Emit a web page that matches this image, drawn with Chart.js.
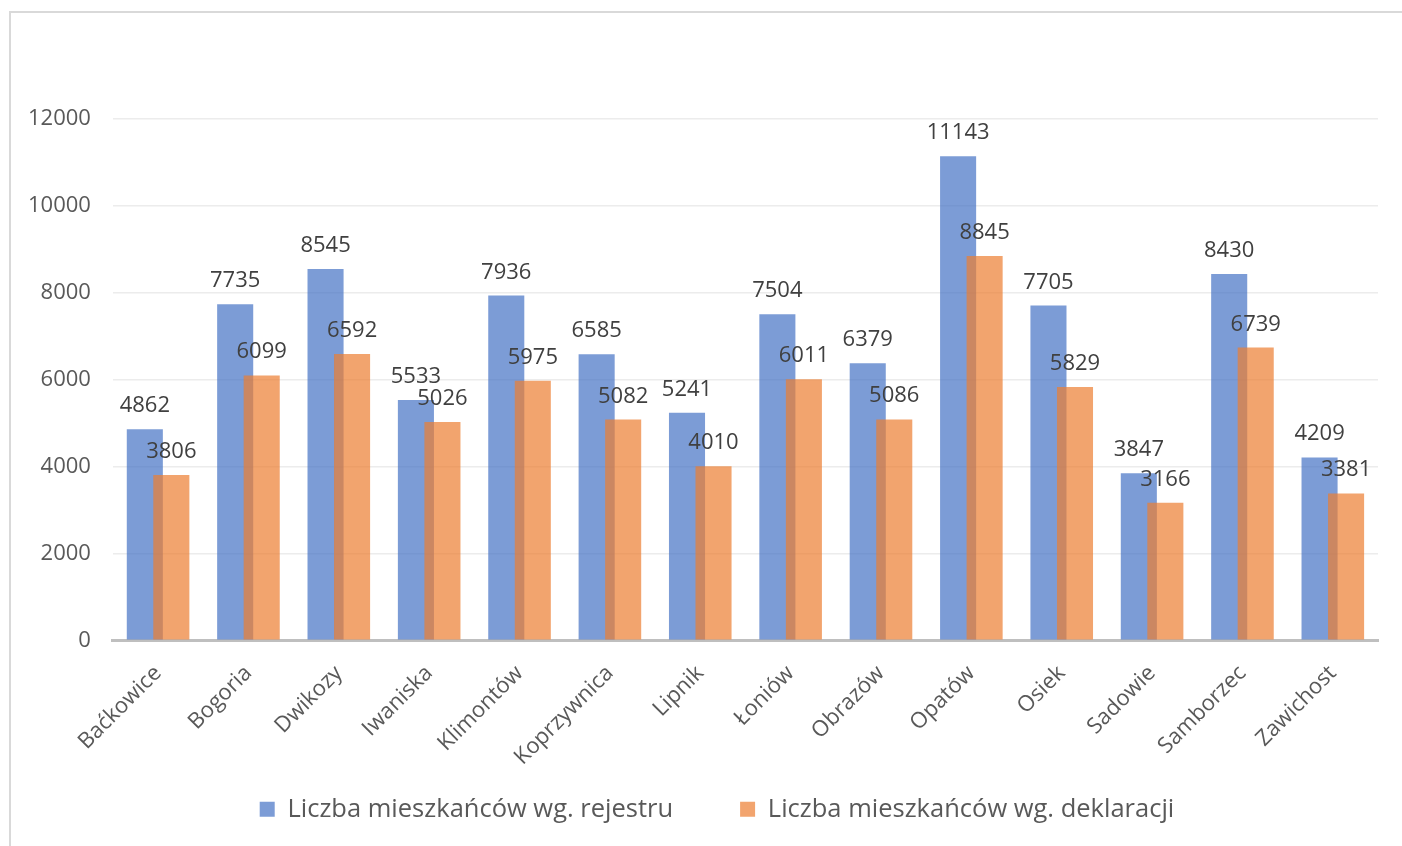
<!DOCTYPE html>
<html>
<head>
<meta charset="utf-8">
<script src="https://cdn.jsdelivr.net/npm/chart.js@4.4.0/dist/chart.umd.min.js"></script>
<style>
    html, body { margin: 0; padding: 0; background: #fff; overflow: hidden; }
    .frame {
        position: absolute; left: 9px; top: 11px;
        width: 1500px; height: 900px;
        border: 2px solid #d9d9d9;
    }
    .wrap { position: absolute; left: 0; top: 0; width: 1402px; height: 846px; }
</style>
</head>
<body>
<div class="frame"></div>
<div class="wrap"><canvas id="chart" width="1402" height="846"></canvas></div>
<script>
const gminy = ['Baćkowice', 'Bogoria', 'Dwikozy', 'Iwaniska', 'Klimontów', 'Koprzywnica', 'Lipnik',
    'Łoniów', 'Obrazów', 'Opatów', 'Osiek', 'Sadowie', 'Samborzec', 'Zawichost'];
const wgRejestru = [4862, 7735, 8545, 5533, 7936, 6585, 5241, 7504, 6379, 11143, 7705, 3847, 8430, 4209];
const wgDeklaracji = [3806, 6099, 6592, 5026, 5975, 5082, 4010, 6011, 5086, 8845, 5829, 3166, 6739, 3381];
const seriesNames = ['Liczba mieszkańców wg. rejestru', 'Liczba mieszkańców wg. deklaracji'];

const FONT = "'Open Sans', sans-serif";

// draw datasets first-to-last so the orange bars sit on top of the blue ones
const drawOrder = {
    id: 'drawOrder',
    afterLayout(chart) {
        // legend in the original sits a bit right of the canvas centre
        chart.legend.left += 25;
        chart.legend.right += 25;
    },
    beforeDatasetsDraw(chart) {
        chart.getSortedVisibleDatasetMetas().forEach((meta) => meta.controller.draw());
        return false;
    },
    afterDraw(chart) {
        const ctx = chart.ctx;
        ctx.save();
        ctx.font = '22px ' + FONT;
        ctx.fillStyle = '#404040';
        ctx.textAlign = 'center';
        ctx.textBaseline = 'alphabetic';
        chart.getSortedVisibleDatasetMetas().forEach((meta) => {
            const values = chart.data.datasets[meta.index].data;
            meta.data.forEach((bar, i) => {
                ctx.fillText(String(values[i]), bar.x, bar.y - 17);
            });
        });
        ctx.restore();
    }
};

new Chart(document.getElementById('chart'), {
    type: 'bar',
    data: {
        labels: gminy,
        datasets: [
            {
                label: seriesNames[0],
                data: wgRejestru,
                backgroundColor: 'rgba(68,114,196,0.7)',
                borderWidth: 0,
                categoryPercentage: 0.587,
                barPercentage: 1.36,
            },
            {
                label: seriesNames[1],
                data: wgDeklaracji,
                backgroundColor: 'rgba(237,125,49,0.7)',
                borderWidth: 0,
                categoryPercentage: 0.587,
                barPercentage: 1.36,
            },
        ],
    },
    options: {
        responsive: false,
        animation: false,
        layout: { padding: { left: 6, right: 24, top: 119, bottom: 14 } },
        plugins: {
            tooltip: { enabled: false },
            legend: {
                position: 'bottom',
                labels: {
                    font: { family: FONT, size: 25.5 },
                    color: '#595959',
                    boxWidth: 15,
                    boxHeight: 15,
                    padding: 14,
                    generateLabels(chart) {
                        const items = Chart.defaults.plugins.legend.labels.generateLabels(chart);
                        // wider gap between the two entries
                        items[0].text = items[0].text + '        ';
                        return items;
                    },
                },
            },
        },
        scales: {
            x: {
                grid: { display: false },
                border: { color: '#bfbfbf', width: 3 },
                ticks: {
                    font: { family: FONT, size: 22 },
                    color: '#595959',
                    minRotation: 45,
                    maxRotation: 45,
                    padding: 12,
                },
            },
            y: {
                min: 0,
                max: 12000,
                ticks: {
                    stepSize: 2000,
                    font: { family: FONT, size: 22 },
                    color: '#595959',
                    padding: 22,
                    callback: (value) => String(value),
                },
                grid: { color: '#ececec', lineWidth: 1.5, drawTicks: false },
                border: { display: false },
            },
        },
    },
    plugins: [drawOrder],
});
</script>
</body>
</html>
